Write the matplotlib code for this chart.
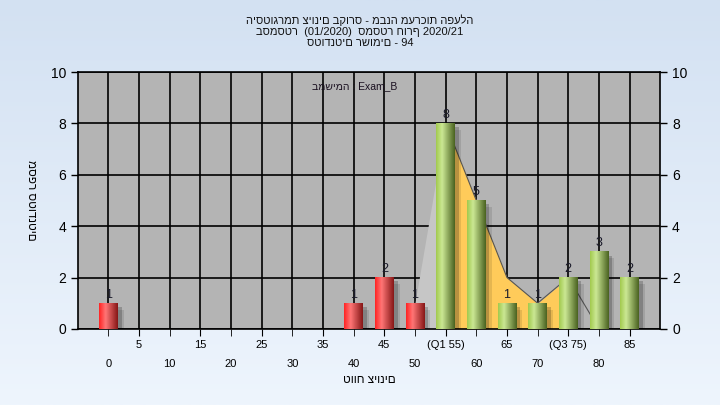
import matplotlib.pyplot as plt
import numpy as np
from matplotlib.colors import LinearSegmentedColormap

plt.rcParams['font.family'] = ['Liberation Sans', 'DejaVu Sans']

# data
grades = [0, 5, 10, 15, 20, 25, 30, 35, 40, 45, 50, 55, 60, 65, 70, 75, 80, 85]
tick_labels = ['0', '5', '10', '15', '20', '25', '30', '35', '40', '45', '50',
               '(Q1 55)', '60', '65', '70', '(Q3 75)', '80', '85']
counts = [1, 0, 0, 0, 0, 0, 0, 0, 1, 2, 1, 8, 5, 1, 1, 2, 3, 2]
trend = [np.nan] * 10 + [1, 8, 5, 2, 1, 2, 0, 0]
pass_grade = 55

title = ('היסטוגרמת ציונים בקורס - מבנה מערכות הפעלה\n'
         'בסמסטר  (01/2020)  סמסטר חורף 2020/21\n'
         'סטודנטים רשומים - 94')

fig = plt.figure(figsize=(7.2, 4.05), dpi=100)

# background gradient
bg = fig.add_axes([0, 0, 1, 1], zorder=-10)
grad = np.linspace(0, 1, 256)[:, None]
bg_cmap = LinearSegmentedColormap.from_list('bg', ['#d3e1f2', '#eef5fd'])
bg.imshow(grad, aspect='auto', cmap=bg_cmap, extent=(0, 1, 0, 1))
bg.axis('off')

ax = fig.add_axes([0.108, 0.188, 0.809, 0.634])
ax.set_facecolor('#b4b4b4')
x = np.arange(len(grades))

# area series behind bars
tr = np.array(trend)
ax.fill_between(x[10:12], tr[10:12], color='#c6c6c6', zorder=1.5, lw=0)
ax.fill_between(x[11:16], tr[11:16], color='#ffcb5a', zorder=1.5, lw=0)
ax.plot(x[11:18], tr[11:18], color='#555555', lw=0.8, zorder=1.6)

red_cmap = LinearSegmentedColormap.from_list(
    'r', [(0, '#ff2424'), (0.35, '#ff7676'), (1, '#861616')])
green_cmap = LinearSegmentedColormap.from_list(
    'g', [(0, '#a2ca4e'), (0.32, '#cbe894'), (1, '#4a6220')])
hgrad = np.linspace(0, 1, 64)[None, :]

bars = ax.bar(x, counts, width=0.6, color='none', zorder=3)
for i, (b, v) in enumerate(zip(bars, counts)):
    if v == 0:
        continue
    x0, w = b.get_x(), b.get_width()
    # shadow
    ax.bar(x0 + w / 2 + 0.13, v - 0.15, width=w, color='black', alpha=0.2,
           zorder=2.5, lw=0)
    ax.bar(x0 + w / 2 + 0.2, v - 0.25, width=w, color='black', alpha=0.1,
           zorder=2.5, lw=0)
    cmap = red_cmap if grades[i] < pass_grade else green_cmap
    ax.imshow(hgrad, cmap=cmap, aspect='auto', extent=(x0, x0 + w, 0, v),
              zorder=3, interpolation='bilinear')
    ax.text(i, v + 0.1, str(v), ha='center', va='bottom', fontsize=9,
            color='#1a1a2a', zorder=4)

ax.set_xlim(-1, len(grades))
ax.set_ylim(0, 10)
ax.set_yticks(range(0, 11, 2))
ax.tick_params(axis='y', labelsize=10, length=5, width=1, colors='black')

ax.set_xticks(x[1::2])
ax.set_xticklabels(tick_labels[1::2])
ax.set_xticks(x[0::2], minor=True)
ax.set_xticklabels(tick_labels[0::2], minor=True)
ax.tick_params(axis='x', which='major', labelsize=8, length=5, pad=3)
ax.tick_params(axis='x', which='minor', labelsize=8, length=5, pad=17)

ax.set_axisbelow(True)
ax.grid(axis='x', which='both', color='black', lw=1.2)
ax.grid(axis='y', which='major', color='black', lw=1.2)
for s in ax.spines.values():
    s.set_color('black')
    s.set_linewidth(1.2)

ax2 = ax.twinx()
ax2.set_ylim(0, 10)
ax2.set_yticks(range(0, 11, 2))
ax2.tick_params(axis='y', labelsize=10, length=5, width=1)
for s in ax2.spines.values():
    s.set_visible(False)

ax.text(0.476, 0.945, 'במשימה : Exam_B', transform=ax.transAxes,
        ha='center', va='center', fontsize=7.5, color='#1a1020')

ax.set_xlabel('טווח ציונים', fontsize=8.5, labelpad=3)
ax.set_ylabel('מספר סטודנטים', fontsize=8.5, rotation=270, labelpad=14,
              va='center')

fig.text(0.5, 0.965, title, ha='center', va='top', fontsize=8,
         linespacing=1.12, color='#111111')

fig.savefig('out.png', dpi=100)
